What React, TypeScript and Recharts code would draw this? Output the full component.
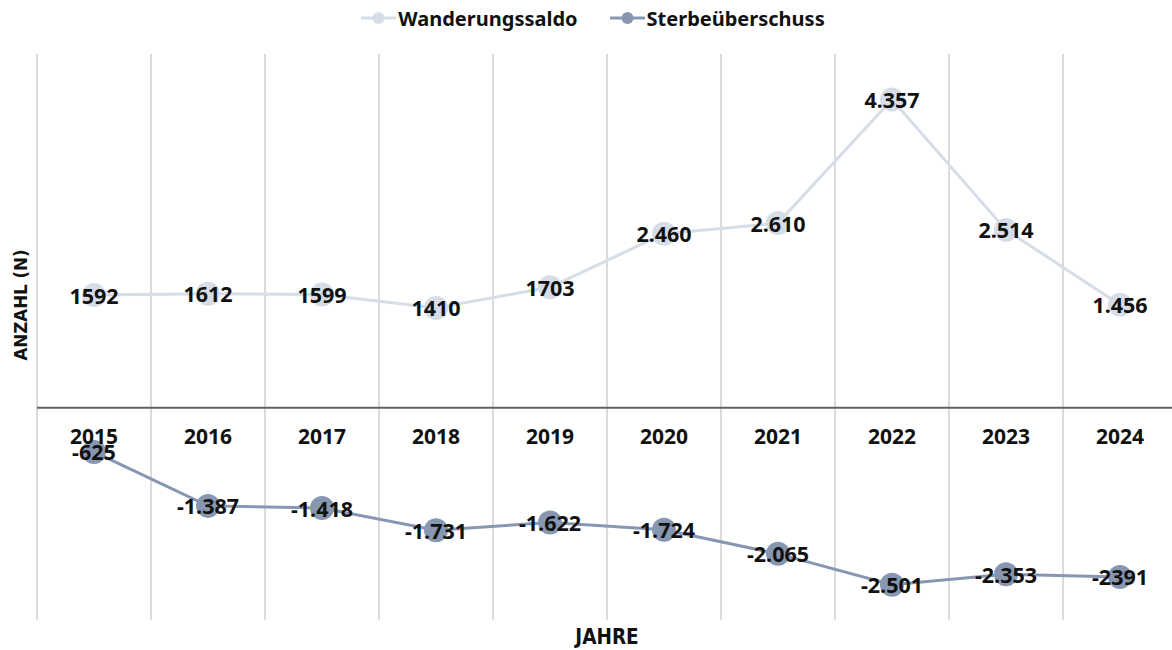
import React from 'react';
import { LineChart, Line, XAxis, YAxis, ReferenceLine, Legend, LabelList } from 'recharts';

const years = ['2015', '2016', '2017', '2018', '2019', '2020', '2021', '2022', '2023', '2024'];
const wanderung = [1592, 1612, 1599, 1410, 1703, 2460, 2610, 4357, 2514, 1456];
const wanderungLabels = ['1592', '1612', '1599', '1410', '1703', '2.460', '2.610', '4.357', '2.514', '1.456'];
const sterbe = [-625, -1387, -1418, -1731, -1622, -1724, -2065, -2501, -2353, -2391];
const sterbeLabels = ['-625', '-1.387', '-1.418', '-1.731', '-1.622', '-1.724', '-2.065', '-2.501', '-2.353', '-2391'];
const gridBounds = [-0.5, 0.5, 1.5, 2.5, 3.5, 4.5, 5.5, 6.5, 7.5, 8.5, 9.5];

const data = years.map((year, i) => ({
  x: i,
  year,
  w: wanderung[i],
  s: sterbe[i],
  wl: wanderungLabels[i],
  sl: sterbeLabels[i],
  base: 0,
}));

const FONT = "'Noto Sans', sans-serif";
const NARROW = "'Liberation Sans Narrow', 'DejaVu Sans Condensed', 'Liberation Sans', sans-serif";
const C_W = '#d6dde7';
const C_S = '#8797b1';

const valueLabel = (p: any) => (
  <text x={p.x} y={p.y} textAnchor="middle" dominantBaseline="central" fontFamily={FONT} fontWeight={700} fontSize={21.5} fill="#111">
    {p.value}
  </text>
);

const yearLabel = (p: any) => (
  <text x={p.x} y={p.y + 28} textAnchor="middle" dominantBaseline="central" fontFamily={FONT} fontWeight={700} fontSize={21} fill="#111">
    {p.value}
  </text>
);

const legendContent = () => (
  <div style={{ display: 'flex', justifyContent: 'center', alignItems: 'center', height: 30, paddingLeft: 14, fontFamily: FONT, fontWeight: 700, fontSize: 20, color: '#111' }}>
    {[{ n: 'Wanderungssaldo', c: C_W }, { n: 'Sterbeüberschuss', c: C_S }].map((it, i) => (
      <div key={it.n} style={{ display: 'flex', alignItems: 'center', marginLeft: i ? 32 : 0 }}>
        <svg width={35} height={14} style={{ marginRight: 2 }}>
          <line x1={0} y1={7} x2={35} y2={7} stroke={it.c} strokeWidth={3} />
          <circle cx={17.5} cy={7} r={6} fill={it.c} />
        </svg>
        <span>{it.n}</span>
      </div>
    ))}
  </div>
);

export default function App() {
  return (
    <div style={{ position: 'absolute', left: 0, top: 0, width: 1172, height: 650, overflow: 'hidden', background: '#fff' }}>
      <LineChart width={1180} height={650} data={data} margin={{ top: 24, right: 3, bottom: 0, left: 0 }}>
        <XAxis
          dataKey="x"
          type="number"
          domain={[-0.5, 9.5]}
          tick={false}
          tickLine={false}
          axisLine={false}
          height={30}
          label={{
            value: 'JAHRE',
            content: (p: any) => (
              <text x={p.viewBox.x + p.viewBox.width / 2} y={p.viewBox.y + 17} textAnchor="middle" dominantBaseline="central" fontFamily={NARROW} fontWeight={700} fontSize={20.5} fill="#111">
                JAHRE
              </text>
            ),
          }}
        />
        <YAxis
          type="number"
          domain={[-3000, 5000]}
          tick={false}
          tickLine={false}
          axisLine={false}
          width={37}
          label={{
            value: 'ANZAHL (N)',
            content: (p: any) => {
              const cx = 20;
              const cy = p.viewBox.y + p.viewBox.height / 2 - 32;
              return (
                <text x={cx} y={cy} transform={`rotate(-90 ${cx} ${cy})`} textAnchor="middle" dominantBaseline="central" fontFamily={NARROW} fontWeight={700} fontSize={18.5} fill="#111">
                  ANZAHL (N)
                </text>
              );
            },
          }}
        />
        <Legend verticalAlign="top" wrapperStyle={{ top: 3, left: 0, width: 1172 }} content={legendContent} />
        {gridBounds.map((b) => (
          <ReferenceLine key={b} x={b} stroke="#cfcfcf" strokeWidth={1.5} />
        ))}
        <ReferenceLine y={0} stroke="#606060" strokeWidth={2} />
        <Line dataKey="base" stroke="none" dot={false} activeDot={false} isAnimationActive={false} legendType="none">
          <LabelList dataKey="year" content={yearLabel} />
        </Line>
        <Line dataKey="w" name="Wanderungssaldo" stroke={C_W} strokeWidth={3} dot={{ r: 12, fill: C_W, stroke: 'none' }} activeDot={false} isAnimationActive={false}>
          <LabelList dataKey="wl" content={valueLabel} />
        </Line>
        <Line dataKey="s" name="Sterbeüberschuss" stroke={C_S} strokeWidth={3} dot={{ r: 12, fill: C_S, stroke: 'none' }} activeDot={false} isAnimationActive={false}>
          <LabelList dataKey="sl" content={valueLabel} />
        </Line>
      </LineChart>
    </div>
  );
}
